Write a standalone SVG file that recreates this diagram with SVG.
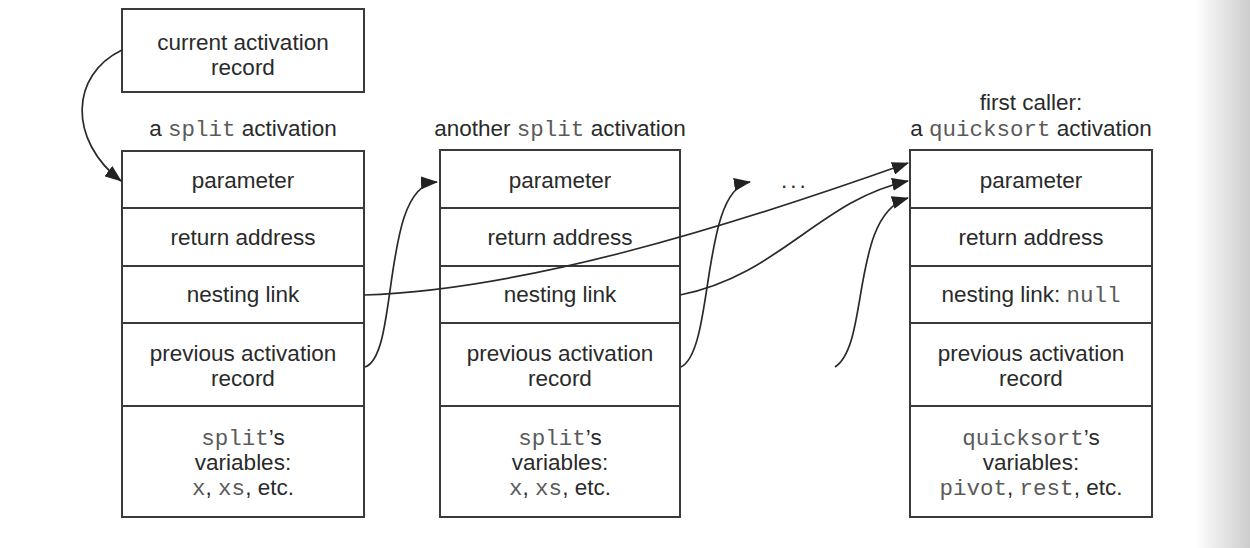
<svg xmlns="http://www.w3.org/2000/svg" width="1250" height="548" viewBox="0 0 1250 548">
<style>
.box{fill:#fff;stroke:#3a3a3a;stroke-width:2}
.div{stroke:#3a3a3a;stroke-width:2}
.t{font-family:"Liberation Sans",Arial,sans-serif;font-size:22.5px;fill:#2a2a2a;text-anchor:middle}
.m{font-family:"Liberation Mono","Courier New",monospace;font-size:22.5px;fill:#5a5a5a}
.c{fill:none;stroke:#2a2a2a;stroke-width:1.7}
</style>
<defs>
<marker id="ah" markerUnits="userSpaceOnUse" markerWidth="17" markerHeight="13" refX="16" refY="6.5" orient="auto">
<path d="M0,0 L17,6.5 L0,13 Z" fill="#222"/>
</marker>
<linearGradient id="edge" x1="0" y1="0" x2="1" y2="0">
<stop offset="0" stop-color="#fff"/>
<stop offset="1" stop-color="#cdcdcd"/>
</linearGradient>
</defs>
<rect width="1250" height="548" fill="#fff"/>
<rect x="1195" y="0" width="55" height="548" fill="url(#edge)"/>

<g id="current">
<rect class="box" x="122" y="9" width="242" height="83"/>
<text class="t" x="243" y="50">current activation</text>
<text class="t" x="243" y="75">record</text>
</g>

<g id="split1">
<text class="t" x="243" y="136">a <tspan class="m">split</tspan> activation</text>
<rect class="box" x="122" y="151" width="242" height="366"/>
<line class="div" x1="122" y1="208" x2="364" y2="208"/>
<line class="div" x1="122" y1="266" x2="364" y2="266"/>
<line class="div" x1="122" y1="323" x2="364" y2="323"/>
<line class="div" x1="122" y1="406" x2="364" y2="406"/>
<text class="t" x="243" y="188">parameter</text>
<text class="t" x="243" y="245">return address</text>
<text class="t" x="243" y="302">nesting link</text>
<text class="t" x="243" y="361">previous activation</text>
<text class="t" x="243" y="386">record</text>
<text class="t" x="243" y="445"><tspan class="m">split</tspan>’s</text>
<text class="t" x="243" y="470">variables:</text>
<text class="t" x="243" y="495"><tspan class="m">x</tspan>, <tspan class="m">xs</tspan>, etc.</text>
</g>

<g id="split2">
<text class="t" x="560" y="136">another <tspan class="m">split</tspan> activation</text>
<rect class="box" x="440" y="150" width="240" height="367"/>
<line class="div" x1="440" y1="208" x2="680" y2="208"/>
<line class="div" x1="440" y1="266" x2="680" y2="266"/>
<line class="div" x1="440" y1="323" x2="680" y2="323"/>
<line class="div" x1="440" y1="406" x2="680" y2="406"/>
<text class="t" x="560" y="188">parameter</text>
<text class="t" x="560" y="245">return address</text>
<text class="t" x="560" y="302">nesting link</text>
<text class="t" x="560" y="361">previous activation</text>
<text class="t" x="560" y="386">record</text>
<text class="t" x="560" y="445"><tspan class="m">split</tspan>’s</text>
<text class="t" x="560" y="470">variables:</text>
<text class="t" x="560" y="495"><tspan class="m">x</tspan>, <tspan class="m">xs</tspan>, etc.</text>
</g>

<g id="ellipsis">
<text class="t" x="795" y="188" letter-spacing="3">...</text>
</g>

<g id="quicksort">
<text class="t" x="1031" y="110">first caller:</text>
<text class="t" x="1031" y="136">a <tspan class="m">quicksort</tspan> activation</text>
<rect class="box" x="910" y="150" width="242" height="367"/>
<line class="div" x1="910" y1="208" x2="1152" y2="208"/>
<line class="div" x1="910" y1="266" x2="1152" y2="266"/>
<line class="div" x1="910" y1="323" x2="1152" y2="323"/>
<line class="div" x1="910" y1="406" x2="1152" y2="406"/>
<text class="t" x="1031" y="188">parameter</text>
<text class="t" x="1031" y="245">return address</text>
<text class="t" x="1031" y="302">nesting link: <tspan class="m">null</tspan></text>
<text class="t" x="1031" y="361">previous activation</text>
<text class="t" x="1031" y="386">record</text>
<text class="t" x="1031" y="445"><tspan class="m">quicksort</tspan>’s</text>
<text class="t" x="1031" y="470">variables:</text>
<text class="t" x="1031" y="495"><tspan class="m">pivot</tspan>, <tspan class="m">rest</tspan>, etc.</text>
</g>

<g id="connectors">
<path class="c" marker-end="url(#ah)" d="M122,50 C70,75 68,140 121,181"/>
<path class="c" marker-end="url(#ah)" d="M365,367 C400,355 380,185 437,182"/>
<path class="c" marker-end="url(#ah)" d="M364,295 C520,290 720,230 908,163"/>
<path class="c" marker-end="url(#ah)" d="M680,295 C780,275 820,200 908,181"/>
<path class="c" marker-end="url(#ah)" d="M835,367 C870,345 850,215 908,198"/>
<path class="c" marker-end="url(#ah)" d="M681,367 C715,350 700,190 750,182"/>
</g>
</svg>
